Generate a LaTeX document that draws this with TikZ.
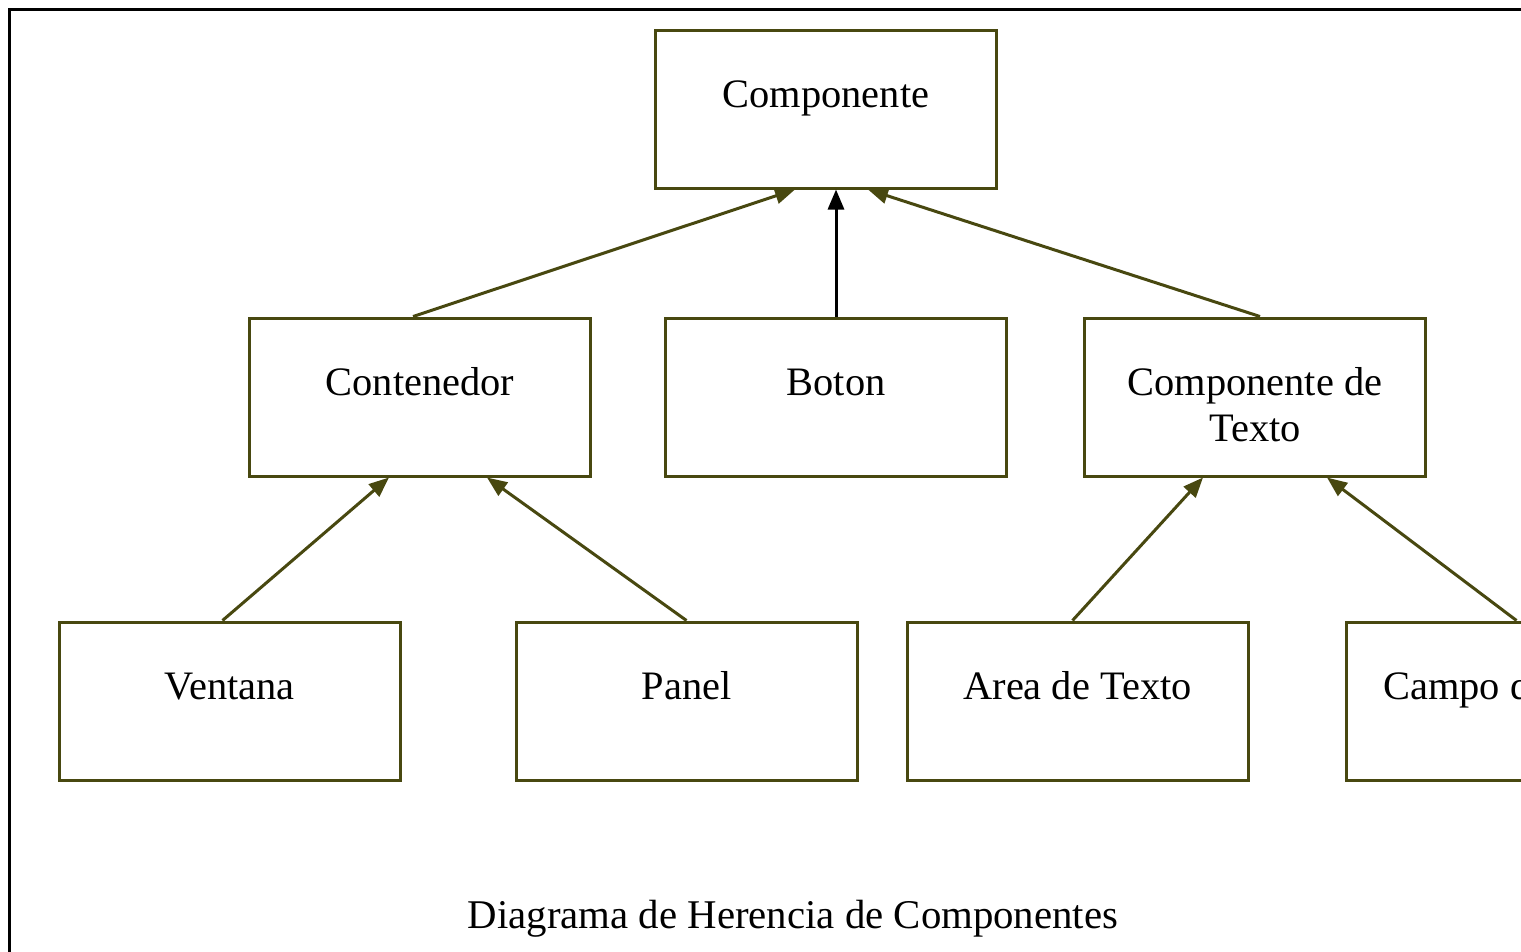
\documentclass[tikz,border=0pt]{standalone}
\usepackage{fontspec}
\setmainfont{Liberation Serif}
\usetikzlibrary{arrows.meta}
\definecolor{olv}{RGB}{72,72,16}
\begin{document}
\begin{tikzpicture}[x=1pt,y=-1pt,
 box/.style={draw=olv,line width=3pt,minimum width=341pt,minimum height=158pt,inner sep=0pt},
 txt/.style={anchor=base,yshift=-79pt,font=\fontsize{40.4}{46}\selectfont,align=center,inner sep=0pt},
 inh/.style={draw=olv,line width=3pt,-{Triangle[length=20pt,width=16pt]}},
 captxt/.style={font=\fontsize{40.8}{46}\selectfont,anchor=base,inner sep=0pt}]
\useasboundingbox (0,0) rectangle (1521,951);
\clip (0,0) rectangle (1521,951);
\draw[line width=3pt] (9,960) -- (9,9) -- (1530,9);
\node[box,label={[txt]north:Componente}] (comp) at (826,109) {};
\node[box,label={[txt]north:Contenedor}] (cont) at (420,397) {};
\node[box,label={[txt]north:Boton}] (boton) at (836,397) {};
\node[box,label={[txt,yshift=-46pt]north:Componente de\\Texto}] (ctexto) at (1255,397) {};
\node[box,label={[txt]north:Ventana}] (vent) at (229.5,701) {};
\node[box,label={[txt]north:Panel}] (panel) at (686.5,701) {};
\node[box,label={[txt]north:Area de Texto}] (area) at (1077.5,701) {};
\node[box,label={[txt]north:Campo de Texto}] (campo) at (1516.5,701) {};
\draw[inh] ([xshift=-7pt]cont.north) -- ([xshift=-31pt]comp.south);
\draw[inh,draw=black] (boton.north) -- (boton.north |- comp.south);
\draw[inh] ([xshift=5pt]ctexto.north) -- ([xshift=42pt]comp.south);
\draw[inh] ([xshift=-7pt]vent.north) -- ([xshift=-31pt]cont.south);
\draw[inh] (panel.north) -- ([xshift=67pt]cont.south);
\draw[inh] ([xshift=-5pt]area.north) -- ([xshift=-52pt]ctexto.south);
\draw[inh] (campo.north) -- ([xshift=72pt]ctexto.south);
\node[captxt] (cap) at (793,928) {Diagrama de Herencia de Componentes};
\end{tikzpicture}
\end{document}
